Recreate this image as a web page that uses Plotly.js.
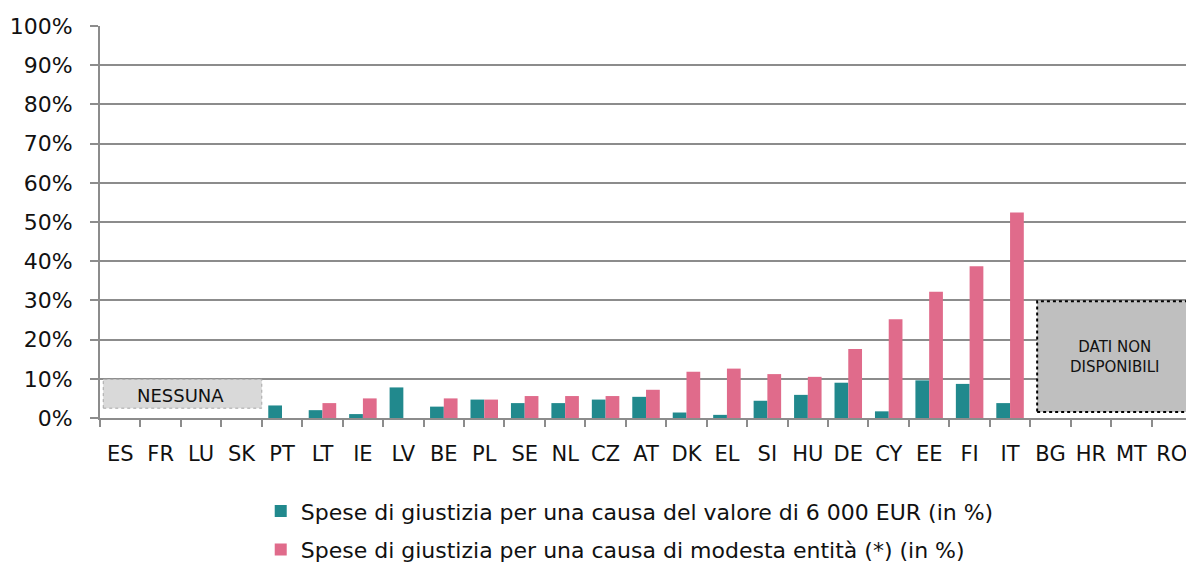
<!DOCTYPE html>
<html>
<head>
<meta charset="utf-8">
<script src="https://cdn.plot.ly/plotly-3.0.1.min.js"></script>
<style>
  html, body { margin: 0; padding: 0; background: #fff; }
  #grafico { width: 1186px; height: 565px; }
</style>
</head>
<body>
<div id="grafico"></div>
<script>
var paesi = ["ES", "FR", "LU", "SK", "PT", "LT", "IE", "LV", "BE", "PL", "SE", "NL", "CZ", "AT",
             "DK", "EL", "SI", "HU", "DE", "CY", "EE", "FI", "IT", "BG", "HR", "MT", "RO"];

// spese per una causa del valore di 6 000 EUR (%)
var spese6000 = [null, null, null, null, 3.2, 2.0, 1.0, 7.8, 2.9, 4.7, 3.8, 3.8, 4.7, 5.4,
                 1.4, 0.8, 4.4, 5.9, 9.0, 1.7, 9.6, 8.7, 3.8, null, null, null, null];

// spese per una causa di modesta entita (%)
var speseModeste = [null, null, null, null, 0, 3.8, 5.0, 0, 5.0, 4.7, 5.6, 5.6, 5.6, 7.2,
                    11.8, 12.6, 11.2, 10.5, 17.6, 25.2, 32.2, 38.7, 52.4, null, null, null, null];

var trace1 = {
  x: paesi,
  y: spese6000,
  name: 'Spese di giustizia per una causa del valore di 6 000 EUR (in %)',
  legendgroup: 'a',
  marker: {color: '#21898d'},
  type: 'bar'
};

var trace2 = {
  x: paesi,
  y: speseModeste,
  name: 'Spese di giustizia per una causa di modesta entità (*) (in %)',
  legendgroup: 'b',
  marker: {color: '#e06b8b'},
  type: 'bar'
};

var data = [trace1, trace2];

var grigio = '#8c8c8c';

var layout = {
  width: 1186,
  height: 565,
  margin: {l: 100, r: 0, t: 26, b: 147, autoexpand: false},
  font: {family: 'DejaVu Sans, sans-serif', color: '#111111'},
  showlegend: true,
  barmode: 'group',
  bargap: 0.32,
  bargroupgap: 0,
  xaxis: {
    type: 'category',
    range: [-0.5, 26.35],
    automargin: false,
    tickangle: 0,
    tickson: 'boundaries',
    ticks: 'outside',
    ticklen: 7,
    tickwidth: 2,
    tickcolor: grigio,
    showline: true,
    linecolor: grigio,
    linewidth: 2,
    showgrid: false,
    ticklabelstandoff: 16,
    tickfont: {size: 21, color: '#111111'}
  },
  yaxis: {
    range: [0, 100],
    automargin: false,
    dtick: 10,
    ticksuffix: '%',
    ticks: 'outside',
    ticklen: 8,
    tickwidth: 2,
    tickcolor: grigio,
    showline: true,
    linecolor: grigio,
    linewidth: 2,
    gridcolor: grigio,
    gridwidth: 2,
    zeroline: false,
    ticklabelstandoff: 13,
    tickfont: {size: 22, color: '#111111'}
  },
  legend: {
    orientation: 'v',
    x: 0.148,
    xanchor: 'left',
    y: -0.184,
    yanchor: 'top',
    traceorder: 'grouped',
    tracegroupgap: 7,
    font: {size: 22, color: '#111111'},
    bgcolor: 'rgba(255,255,255,0)'
  },
  shapes: [
    {
      type: 'rect', xref: 'x', yref: 'y', layer: 'above',
      x0: -0.42, x1: 3.5, y0: 2.5, y1: 9.9,
      fillcolor: '#d9d9d9',
      line: {color: '#a6a6a6', width: 1, dash: 'dot'}
    },
    {
      type: 'rect', xref: 'x', yref: 'y', layer: 'above',
      x0: 22.67, x1: 26.5, y0: 1.5, y1: 29.8,
      fillcolor: '#bfbfbf',
      line: {color: '#000000', width: 2, dash: 'dot'}
    }
  ],
  annotations: [
    {
      xref: 'x', yref: 'y', x: 1.5, y: 5.7, showarrow: false,
      text: 'NESSUNA', font: {size: 18, color: '#111111'}
    },
    {
      xref: 'x', yref: 'y', x: 24.6, y: 15.5, showarrow: false,
      text: 'DATI NON<br>DISPONIBILI', font: {size: 15, color: '#111111'}
    }
  ],
  plot_bgcolor: '#ffffff',
  paper_bgcolor: '#ffffff'
};

Plotly.newPlot('grafico', data, layout, {displayModeBar: false, staticPlot: true});
</script>
</body>
</html>
